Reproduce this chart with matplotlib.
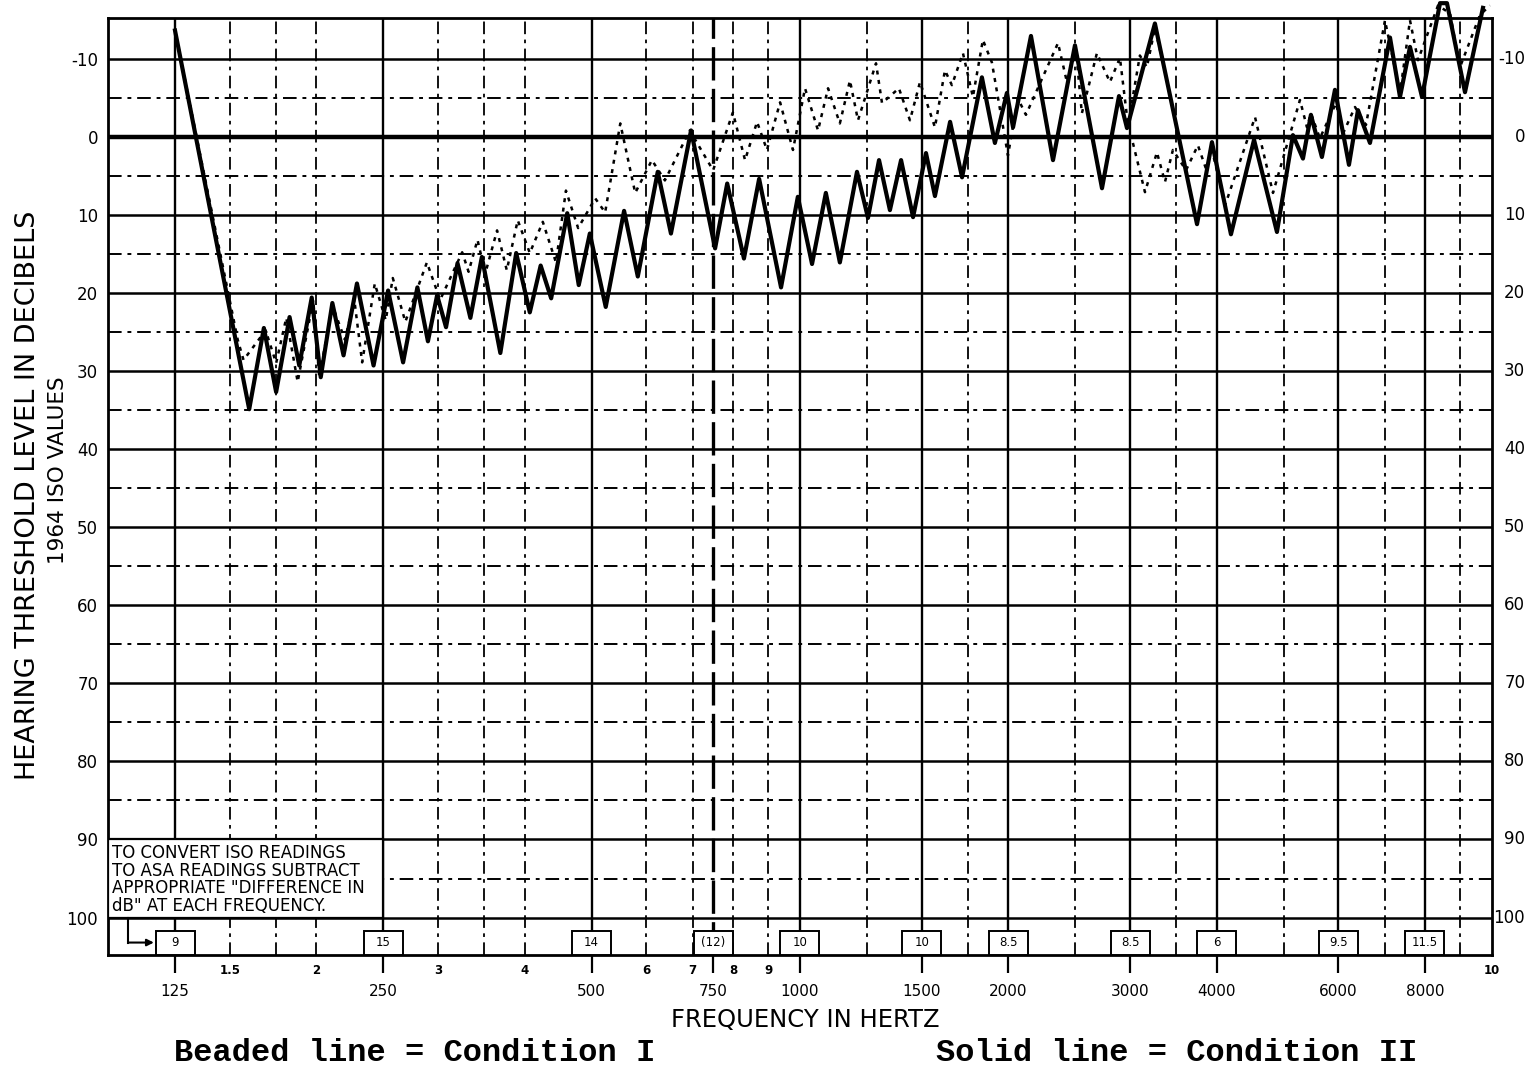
import matplotlib
matplotlib.use("Agg")
import matplotlib.pyplot as plt
from matplotlib.patches import Rectangle
from matplotlib.transforms import blended_transform_factory

# Condition II (solid line), Bekesy tracing: frequency (Hz) / hearing level (dB, ISO 1964)
solid_freq = [125, 160, 168, 175, 183, 189, 197, 203, 211, 219, 229, 242, 254, 267, 280,
              290, 299, 308, 320, 334, 347, 369, 389, 407, 422, 437, 461, 479, 497, 524,
              557, 583, 623, 651, 696, 754, 785, 830, 873, 939, 993, 1041, 1090, 1142,
              1209, 1254, 1301, 1349, 1400, 1457, 1521, 1567, 1648, 1715, 1832, 1913,
              1991, 2032, 2157, 2321, 2497, 2732, 2891, 2969, 3258, 3748, 3939, 4196,
              4531, 4890, 5157, 5332, 5475, 5679, 5931, 6214, 6403, 6664, 7123, 7364,
              7613, 7923, 8413, 8610, 9142, 9705]
solid_db = [-13.6, 34.9, 24.5, 32.7, 23.1, 29.3, 20.6, 30.8, 21.3, 28.0, 18.8, 29.3, 19.7,
            28.9, 19.3, 26.2, 20.3, 24.4, 16.2, 23.2, 15.4, 27.7, 14.9, 22.5, 16.5, 20.7,
            9.8, 19.0, 12.4, 21.8, 9.5, 17.9, 4.5, 12.4, -0.8, 14.3, 6.0, 15.6, 5.4, 19.3,
            7.7, 16.3, 7.2, 16.1, 4.5, 10.4, 3.0, 9.4, 3.0, 10.3, 2.1, 7.6, -1.9, 5.2,
            -7.6, 0.8, -5.6, -1.2, -12.9, 3.0, -11.7, 6.6, -5.2, -1.1, -14.5, 11.2, 0.7,
            12.5, 0.4, 12.2, -0.2, 2.8, -2.8, 2.6, -6.0, 3.6, -3.4, 0.8, -12.7, -5.1,
            -11.5, -5.1, -17.1, -17.1, -5.7, -16.5]

# Condition I (beaded line); nan marks the break in the tracing near 3000 Hz
nan = float("nan")
beaded_freq = [125, 154, 157, 169, 175, 181, 188, 198, 202, 211, 220, 227, 233, 243, 252,
               258, 269, 289, 302, 325, 332, 342, 351, 365, 377, 391, 407, 425, 444, 459,
               478, 506, 523, 550, 578, 611, 638, 693, 749, 800, 833, 867, 896, 936, 977,
               1017, 1062, 1098, 1142, 1181, 1213, 1288, 1314, 1390, 1442, 1491, 1567,
               1620, 1658, 1720, 1778, 1838, 1894, 1998, 2065, 2121, 2360, 2431, 2505,
               2555, 2686, 2805, 2900, 2979, 3099, 3172, 3258, 3346, nan,
               3028, 3152, 3280, 3369, 3459, 3613, 3759, 3875, 3926, 4114, 4546, 4826,
               5279, 5404, 5475, 5641, 5951, 6092, 6340, 6576, 7005, 7364, 7613, 7818,
               8356, 8697, 8991, 9609, 9934]
beaded_db = [-13.6, 26.0, 28.6, 24.8, 29.0, 23.2, 31.4, 20.9, 30.8, 21.6, 26.0, 20.9, 28.9,
             18.8, 23.5, 18.1, 23.7, 16.1, 20.9, 14.8, 17.3, 13.2, 17.5, 12.0, 17.1, 10.7,
             14.9, 10.9, 16.1, 6.9, 11.7, 7.9, 9.7, -1.7, 7.2, 3.0, 5.6, -0.8, 4.3, -3.1,
             3.0, -1.9, 1.7, -4.4, 1.7, -6.2, -0.8, -6.2, -1.7, -7.2, -2.1, -9.4, -4.3,
             -6.2, -2.1, -7.0, -1.2, -8.5, -6.6, -10.7, -5.1, -12.4, -9.5, 2.4, -4.9, -2.8,
             -12.0, -7.0, -11.1, -3.0, -10.7, -7.0, -10.1, -1.5, -10.4, -8.9, -13.9, -9.5, nan,
             0.8, 7.1, 2.0, 5.8, 1.7, 4.3, 1.1, 4.5, 1.1, 8.8, -2.5, 7.2,
             -4.7, -1.2, -3.0, 0.2, -4.3, -0.4, -3.8, -1.5, -14.9, -5.6, -14.9, -9.8,
             -16.8, -15.8, -8.9, -15.6, -16.8]

db_ticks = [-10, 0, 10, 20, 30, 40, 50, 60, 70, 80, 90, 100]
db_half = [-5, 5, 15, 25, 35, 45, 55, 65, 75, 85, 95]

main_freqs = [125, 250, 500, 750, 1000, 1500, 2000, 3000, 4000, 6000, 8000]
main_labels = ["125", "250", "500", "750", "1000", "1500", "2000", "3000", "4000", "6000", "8000"]
iso_asa_diff = ["9", "15", "14", "(12)", "10", "10", "8.5", "8.5", "6", "9.5", "11.5"]

small_freqs = [150, 200, 300, 400, 600, 700, 800, 900, 10000]
small_labels = ["1.5", "2", "3", "4", "6", "7", "8", "9", "10"]

solid_vlines = [125, 250, 500, 1000, 1500, 2000, 3000, 4000, 6000, 8000]
dashed_vlines = [150, 175, 200, 300, 350, 400, 600, 700, 800, 900, 1250, 1750,
                 2500, 3500, 5000, 7000, 9000]

note_text = ("TO CONVERT ISO READINGS\nTO ASA READINGS SUBTRACT\n"
             "APPROPRIATE \"DIFFERENCE IN\ndB\" AT EACH FREQUENCY.")

Y_TOP, Y_BOT = -15.2, 104.8
dashdot = (0, (7, 3, 2, 3))

fig = plt.figure(figsize=(15.4, 10.72), dpi=100)
ax = fig.add_axes([0.0701, 0.1091, 0.8987, 0.8741])
ax.set_xscale("log")
ax.set_xlim(100, 10000)
ax.set_ylim(Y_BOT, Y_TOP)

# grid
for v in db_ticks:
    ax.axhline(v, color="black", lw=3.2 if v == 0 else 1.8, zorder=1)
for v in db_half:
    ax.axhline(v, color="black", lw=1.4, ls=dashdot, zorder=1)
for f in solid_vlines:
    ax.axvline(f, color="black", lw=1.7, zorder=1)
for f in dashed_vlines:
    ax.axvline(f, color="black", lw=1.3, ls=dashdot, zorder=1)
ax.axvline(750, color="black", lw=2.4, ls=(0, (10, 2.5)), zorder=1)

# conversion note box and ISO-ASA difference boxes
ax.add_patch(Rectangle((100, 90), 150, 10, facecolor="white", edgecolor="black",
                       lw=1.6, zorder=3))
ax.text(101.4, 90.6, note_text, va="top", ha="left", fontsize=12,
        linespacing=0.97, zorder=4)
box_top = 101.7
for f, lab in zip(main_freqs, iso_asa_diff):
    ax.add_patch(Rectangle((f / 1.067, box_top), f * 1.067 - f / 1.067, Y_BOT - box_top,
                           facecolor="white", edgecolor="black", lw=1.4, zorder=3))
    ax.text(f, (box_top + Y_BOT) / 2, lab, ha="center", va="center", fontsize=8.5, zorder=4)
ax.plot([107, 107], [100, 103.2], color="black", lw=1.5, zorder=4)
ax.annotate("", xy=(116.5, 103.2), xytext=(107, 103.2),
            arrowprops=dict(arrowstyle="-|>", lw=1.5, color="black", shrinkA=0, shrinkB=0),
            zorder=4)

# tracings
ax.plot(beaded_freq, beaded_db, color="black", lw=1.8, ls=(0, (1.6, 2.2)),
        clip_on=False, zorder=5)
ax.plot(solid_freq, solid_db, color="black", lw=3.0, clip_on=False, zorder=6)

# axes frame and ticks
for sp in ax.spines.values():
    sp.set_linewidth(2)
ax.set_xticks(main_freqs)
ax.set_xticklabels([])
ax.xaxis.set_minor_locator(matplotlib.ticker.NullLocator())
ax.tick_params(axis="x", length=13, width=1.6, direction="out")
ax.set_yticks(db_ticks)
ax.set_yticklabels([str(v) for v in db_ticks], fontsize=12)
ax.tick_params(axis="y", length=0, pad=7)

bt = blended_transform_factory(ax.transData, ax.transAxes)
for f, lab in zip(main_freqs, main_labels):
    ax.text(f, -0.039, lab, transform=bt, ha="center", va="center", fontsize=11)
for f, lab in zip(small_freqs, small_labels):
    ax.text(f, -0.016, lab, transform=bt, ha="center", va="center", fontsize=8.5,
            fontweight="bold")

rt = blended_transform_factory(ax.transAxes, ax.transData)
for v in db_ticks:
    ax.text(1.024, v, str(v), transform=rt, ha="right", va="center", fontsize=12)

ax.text(0.5036, -0.069, "FREQUENCY IN HERTZ", transform=ax.transAxes,
        ha="center", va="center", fontsize=17.5)
fig.text(0.0182, 0.538, "HEARING THRESHOLD LEVEL IN DECIBELS", rotation=90,
         ha="center", va="center", fontsize=19.5)
fig.text(0.0377, 0.5616, "1964 ISO VALUES", rotation=90,
         ha="center", va="center", fontsize=15.5)

fig.text(0.2695, 0.0177, "Beaded line = Condition I", ha="center", va="center",
         fontsize=23, fontweight="bold", family="Liberation Mono")
fig.text(0.764, 0.0177, "Solid line = Condition II", ha="center", va="center",
         fontsize=23, fontweight="bold", family="Liberation Mono")

fig.savefig("out.png", dpi=100)
